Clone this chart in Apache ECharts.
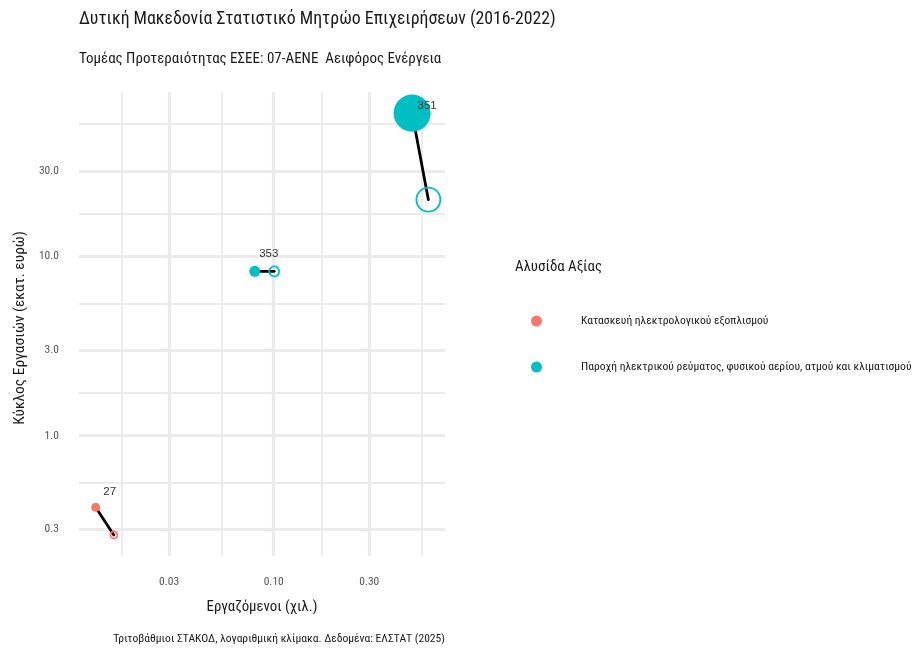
<!DOCTYPE html>
<html><head><meta charset="utf-8">
<script src="https://cdn.jsdelivr.net/npm/echarts@6/dist/echarts.min.js"></script>
<style>html,body{margin:0;padding:0;background:#fff}#c{width:913px;height:648px}</style>
</head><body><div id="c"></div>
<script>
// ---- data ----
const chains = ['Κατασκευή ηλεκτρολογικού εξοπλισμού', 'Παροχή ηλεκτρικού ρεύματος, φυσικού αερίου, ατμού και κλιματισμού'];
const codes = ['27', '353', '351'];
const chainOf = [0, 1, 1];
const empFirst = [0.0129, 0.0804, 0.491];   // Εργαζόμενοι (χιλ.), filled point
const empLast = [0.0159, 0.1005, 0.592];    // Εργαζόμενοι (χιλ.), hollow point
const turnFirst = [0.399, 8.25, 62.9];      // Κύκλος εργασιών (εκατ. ευρώ), filled point
const turnLast = [0.280, 8.25, 20.7];       // Κύκλος εργασιών (εκατ. ευρώ), hollow point
const sizeFirst = [3.8, 5.7, 65];           // bubble size variable (estimated)
const sizeLast = [2.3, 4.7, 27];
const xBreaks = [0.01, 0.03, 0.1, 0.3, 1];
const yBreaks = [0.1, 0.3, 1, 3, 10, 30, 100];

// ---- build ----
const colors = ['#F8766D', '#00BFC4'];
const FONT = "'Roboto Condensed', 'DejaVu Sans Condensed', 'Liberation Sans Narrow', Roboto, sans-serif";
const INK = '#1a1a1a';
const L = Math.log10;
const allX = empFirst.concat(empLast).map(L), allY = turnFirst.concat(turnLast).map(L);
function expand(a) { const lo = Math.min(...a), hi = Math.max(...a), d = (hi - lo) * 0.05; return [lo - d, hi + d]; }
const [xMin, xMax] = expand(allX), [yMin, yMax] = expand(allY);
function majors(b, lo, hi) { return b.map(L).filter(v => v >= lo && v <= hi); }
function minors(b, lo, hi) { const m = []; for (let i = 0; i < b.length - 1; i++) m.push((L(b[i]) + L(b[i + 1])) / 2); return m.filter(v => v >= lo && v <= hi); }
const xMaj = majors(xBreaks, xMin, xMax), xMinr = minors(xBreaks, xMin, xMax);
const yMaj = majors(yBreaks, yMin, yMax), yMinr = minors(yBreaks, yMin, yMax);
const sizeFn = v => 4.6 * Math.sqrt(v);
const labelOffsets = {'27': [14, -15], '353': [14, -18], '351': [15, -7]};

const series = [];
codes.forEach((c, i) => {
  series.push({
    type: 'line', xAxisIndex: 0, yAxisIndex: 0, silent: true, symbol: 'none', z: 2,
    data: [[L(empFirst[i]), L(turnFirst[i])], [L(empLast[i]), L(turnLast[i])]],
    lineStyle: {color: '#000', width: 2.8, cap: 'round'}
  });
});
chains.forEach((ch, k) => {
  const idx = codes.map((c, i) => i).filter(i => chainOf[i] === k);
  series.push({
    name: ch, type: 'scatter', xAxisIndex: 0, yAxisIndex: 0, z: 4, silent: true,
    itemStyle: {color: colors[k], opacity: 1},
    symbolSize: v => sizeFn(v[2]),
    data: idx.map(i => ({
      name: codes[i], value: [L(empFirst[i]), L(turnFirst[i]), sizeFirst[i]],
      label: {show: true, position: 'inside', offset: labelOffsets[codes[i]], formatter: '{b}',
        color: '#333', fontSize: 11.5, fontFamily: "'Liberation Sans', Arial, sans-serif"}
    }))
  });
  series.push({
    name: ch + ' ', type: 'scatter', xAxisIndex: 0, yAxisIndex: 0, z: 3, silent: true,
    itemStyle: {color: 'rgba(0,0,0,0)', borderColor: colors[k], borderWidth: 1.8, opacity: 1},
    symbolSize: v => sizeFn(v[2]),
    data: idx.map(i => ({name: codes[i], value: [L(empLast[i]), L(turnLast[i]), sizeLast[i]]}))
  });
});

const gridLine = w => ({show: true, lineStyle: {color: '#ebebeb', width: w}});
const option = {
  animation: false,
  textStyle: {fontFamily: FONT},
  title: [
    {text: 'Δυτική Μακεδονία Στατιστικό Μητρώο Επιχειρήσεων (2016-2022)', left: 79, top: 11, padding: 0,
      textStyle: {fontSize: 17.8, fontWeight: 'normal', color: INK, fontFamily: FONT}},
    {text: 'Τομέας Προτεραιότητας ΕΣΕΕ: 07-ΑΕΝΕ  Αειφόρος Ενέργεια', left: 79, top: 52, padding: 0,
      textStyle: {fontSize: 15, fontWeight: 'normal', color: INK, fontFamily: FONT}},
    {text: 'Αλυσίδα Αξίας', left: 515, top: 260, padding: 0,
      textStyle: {fontSize: 14.9, fontWeight: 'normal', color: INK, fontFamily: FONT}},
    {text: 'Τριτοβάθμιοι ΣΤΑΚΟΔ, λογαριθμική κλίμακα. Δεδομένα: ΕΛΣΤΑΤ (2025)', right: 468, top: 633, padding: 0,
      textStyle: {fontSize: 11.6, fontWeight: 'normal', color: INK, fontFamily: FONT}}
  ],
  legend: {
    data: chains.map(n => ({name: n, icon: 'circle'})),
    orient: 'vertical', left: 526, top: 310, itemWidth: 11, itemHeight: 11, itemGap: 34,
    selectedMode: false,
    textStyle: {fontSize: 11.6, color: INK, fontFamily: FONT, padding: [0, 0, 0, 34]}
  },
  graphic: [{
    type: 'text', x: 20, y: 328, rotation: Math.PI / 2, silent: true,
    style: {text: 'Κύκλος Εργασιών (εκατ. ευρώ)', align: 'center', verticalAlign: 'middle',
      fill: INK, fontSize: 15.5, fontFamily: FONT}
  }],
  grid: {left: 79, right: 468, top: 92, bottom: 92},
  xAxis: [
    {type: 'value', min: xMin, max: xMax, position: 'bottom',
      axisLine: {show: false}, axisTick: {show: false, customValues: xMaj},
      axisLabel: {customValues: xMaj, formatter: v => Math.pow(10, v).toFixed(2), color: '#555', fontSize: 11.5, margin: 20, fontFamily: FONT},
      splitLine: gridLine(3.2),
      name: 'Εργαζόμενοι (χιλ.)', nameLocation: 'middle', nameGap: 44,
      nameTextStyle: {fontSize: 14.85, color: INK, fontFamily: FONT}},
    {type: 'value', min: xMin, max: xMax, position: 'bottom',
      axisLine: {show: false}, axisTick: {show: false, customValues: xMinr}, axisLabel: {show: false},
      splitLine: gridLine(1.8)}
  ],
  yAxis: [
    {type: 'value', min: yMin, max: yMax, position: 'left',
      axisLine: {show: false}, axisTick: {show: false, customValues: yMaj},
      axisLabel: {customValues: yMaj, formatter: v => Math.pow(10, v).toFixed(1), color: '#555', fontSize: 11.5, margin: 20, fontFamily: FONT},
      splitLine: gridLine(3.2)},
    {type: 'value', min: yMin, max: yMax, position: 'right',
      axisLine: {show: false}, axisTick: {show: false, customValues: yMinr}, axisLabel: {show: false},
      splitLine: gridLine(1.8)}
  ],
  series: series
};
const chart = echarts.init(document.getElementById('c'), null, {renderer: 'canvas'});
chart.setOption(option);
</script></body></html>
